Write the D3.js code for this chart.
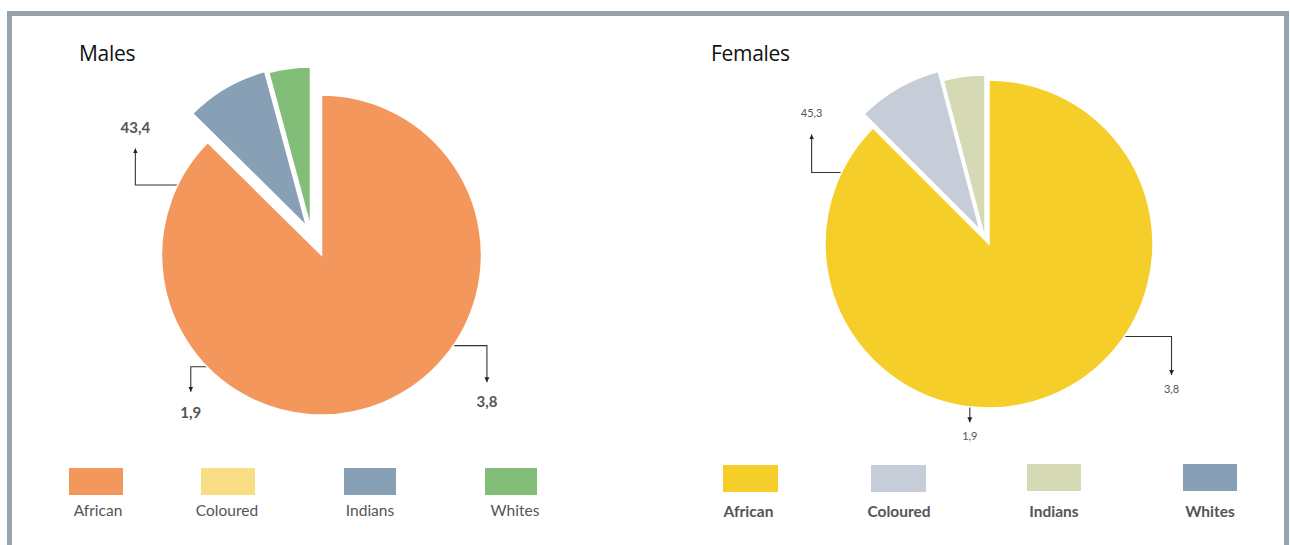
<!DOCTYPE html>
<html>
<head>
<meta charset="utf-8">
<script src="https://cdn.jsdelivr.net/npm/d3@7"></script>
<style>
  html, body { margin: 0; padding: 0; background: #fff; }
  svg { display: block; }
</style>
</head>
<body>
<svg id="chart" width="1290" height="545"></svg>
<script>
// ---------- DATA ----------
const categories = ["African", "Coloured", "Indians", "Whites"];
const maleValues = [87.4, 0, 8.4, 4.2];
const femaleValues = [87.5, 8.4, 4.1, 0];
const maleColors = ["#F4975C", "#F9DE85", "#87A0B6", "#82BE78"];
const femaleColors = ["#F5CE2A", "#C6CCD8", "#D5DAB5", "#87A0B6"];
const maleCallouts = ["43,4", "1,9", "3,8"];
const femaleCallouts = ["45,3", "1,9", "3,8"];
const titles = ["Males", "Females"];

// ---------- LAYOUT / STYLE ----------
const layouts = [
  {
    cx: 321.5, cy: 255, r: 160,
    titleX: 79, titleY: 61,
    explode: [[0, 0], [0, 0], [-15, -29], [-11, -28]],
    callouts: [ // angle (deg, clockwise from 12), horizontal leg, vertical leg, label gap
      { a: 296.3, h: -44.5, v: -36.5, gap: 15 },
      { a: 225.0, h: -19, v: 25, gap: 26 },
      { a: 125.0, h: 36, v: 36.5, gap: 25 }
    ],
    calloutFont: { size: 15, weight: 700 },
    legendX: [69, 201, 344, 485],
    legendW: [54, 54, 52, 52],
    legendTextDx: [2, -1, 0, 4],
    legendY: 468, legendH: 27,
    legendTextY: 516, legendWeight: 400
  },
  {
    cx: 989, cy: 244, r: 164,
    titleX: 711, titleY: 61,
    explode: [[0, 0], [-9, -14], [-4, -5], [0, 0]],
    callouts: [
      { a: 296.2, h: -32, v: -38, gap: 17 },
      { a: 186.8, h: 0, v: 17.5, gap: 18 },
      { a: 124.8, h: 49.5, v: 38.5, gap: 18 }
    ],
    calloutFont: { size: 11, weight: 400 },
    legendX: [723, 871, 1027, 1183],
    legendW: [55, 55, 54, 54],
    legendTextDx: [-2, 0.5, 0, 0],
    legendY: [465, 465, 464, 464], legendH: 27,
    legendTextY: 517, legendWeight: 700
  }
];

const svg = d3.select("#chart");

// frame
svg.append("rect")
  .attr("x", 9.5).attr("y", 13.5)
  .attr("width", 1277).attr("height", 600)
  .attr("fill", "none")
  .attr("stroke", "#97A4AE")
  .attr("stroke-width", 5);

// arrow marker
svg.append("defs").append("marker")
  .attr("id", "arrow")
  .attr("viewBox", "0 0 10 10")
  .attr("refX", 10).attr("refY", 5)
  .attr("markerWidth", 5).attr("markerHeight", 6)
  .attr("markerUnits", "userSpaceOnUse")
  .attr("orient", "auto")
  .append("path")
  .attr("d", "M0,0 L10,5 L0,10 z")
  .attr("fill", "#222");

const datasets = [
  { values: maleValues, colors: maleColors, callouts: maleCallouts },
  { values: femaleValues, colors: femaleColors, callouts: femaleCallouts }
];

datasets.forEach((ds, i) => {
  const L = layouts[i];
  const g = svg.append("g");

  // title
  g.append("text")
    .attr("x", L.titleX).attr("y", L.titleY)
    .attr("font-family", "'Open Sans', sans-serif")
    .attr("font-size", 21)
    .attr("fill", "#111")
    .attr("letter-spacing", -0.3)
    .text(titles[i]);

  const color = d3.scaleOrdinal().domain(categories).range(ds.colors);
  const pie = d3.pie().sort(null).value(d => d.v).startAngle(0).endAngle(2 * Math.PI);
  const rows = categories.map((c, k) => ({ c, v: ds.values[k], k }));
  const arcs = pie(rows);
  const arc = d3.arc().innerRadius(0).outerRadius(L.r);

  // callouts (drawn under the pie)
  const cg = g.append("g");
  L.callouts.forEach((co, k) => {
    const p = d3.pointRadial(co.a * Math.PI / 180, L.r - 2);
    const x0 = L.cx + p[0], y0 = L.cy + p[1];
    const x1 = x0 + co.h, y1 = y0;
    const y2 = y1 + co.v;
    cg.append("path")
      .attr("d", `M${x0},${y0} L${x1},${y1} L${x1},${y2}`)
      .attr("fill", "none")
      .attr("stroke", "#333")
      .attr("stroke-width", 1.1)
      .attr("marker-end", "url(#arrow)");
    const dir = co.v < 0 ? -1 : 1;
    cg.append("text")
      .attr("x", x1)
      .attr("y", dir < 0 ? y2 - co.gap : y2 + co.gap)
      .attr("text-anchor", "middle")
      .attr("font-family", "Lato, sans-serif")
      .attr("font-size", L.calloutFont.size)
      .attr("font-weight", L.calloutFont.weight)
      .attr("fill", "#555")
      .text(ds.callouts[k]);
  });

  // slices
  g.append("g")
    .selectAll("path")
    .data(arcs.filter(d => d.data.v > 0))
    .join("path")
    .attr("transform", d => {
      const e = L.explode[d.data.k];
      return `translate(${L.cx + e[0]},${L.cy + e[1]})`;
    })
    .attr("d", arc)
    .attr("fill", d => color(d.data.c))
    .attr("stroke", "#fff")
    .attr("stroke-width", 1.5)
    .attr("stroke-linejoin", "miter");

  // legend
  const lg = g.append("g");
  categories.forEach((c, k) => {
    const ly = Array.isArray(L.legendY) ? L.legendY[k] : L.legendY;
    lg.append("rect")
      .attr("x", L.legendX[k]).attr("y", ly)
      .attr("width", L.legendW[k]).attr("height", L.legendH)
      .attr("fill", color(c));
    lg.append("text")
      .attr("x", L.legendX[k] + L.legendW[k] / 2 + L.legendTextDx[k])
      .attr("y", L.legendTextY)
      .attr("text-anchor", "middle")
      .attr("font-family", "Lato, sans-serif")
      .attr("font-size", 15.5)
      .attr("font-weight", L.legendWeight)
      .attr("fill", "#555")
      .text(c);
  });
});
</script>
</body>
</html>
